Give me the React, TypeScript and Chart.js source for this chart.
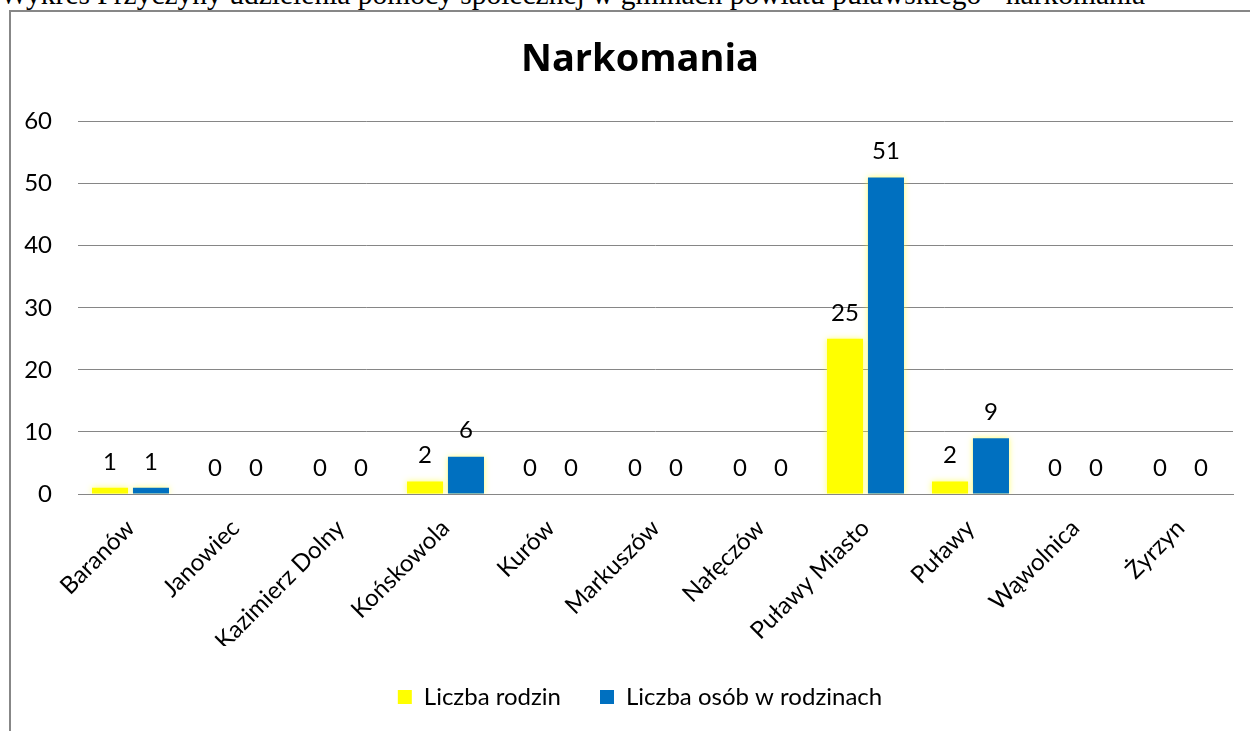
import React, { useEffect, useRef } from "react";
import { Chart, registerables } from "chart.js";

Chart.register(...registerables);

const pageHeading =
  "Wykres Przyczyny udzielenia pomocy społecznej w gminach powiatu puławskiego - narkomania";
const chartTitle = "Narkomania";
const categories = [
  "Baranów",
  "Janowiec",
  "Kazimierz Dolny",
  "Końskowola",
  "Kurów",
  "Markuszów",
  "Nałęczów",
  "Puławy Miasto",
  "Puławy",
  "Wąwolnica",
  "Żyrzyn",
];
const seriesNames = ["Liczba rodzin", "Liczba osób w rodzinach"];
const familiesValues = [1, 0, 0, 2, 0, 0, 0, 25, 2, 0, 0];
const personsValues = [1, 0, 0, 6, 0, 0, 0, 51, 9, 0, 0];
const yTicks = [0, 10, 20, 30, 40, 50, 60];

const FONT = "Lato, 'Open Sans', sans-serif";
const TEXT_SIZE = 24;

const valueLabels = {
  id: "valueLabels",
  afterDatasetsDraw(chart: any) {
    const ctx = chart.ctx;
    ctx.save();
    ctx.font = `${TEXT_SIZE}px ${FONT}`;
    ctx.fillStyle = "#000";
    ctx.textAlign = "center";
    ctx.textBaseline = "middle";
    chart.data.datasets.forEach((ds: any, i: number) => {
      const meta = chart.getDatasetMeta(i);
      meta.data.forEach((el: any, j: number) => {
        ctx.fillText(String(ds.data[j]), el.x, el.y - 26);
      });
    });
    ctx.restore();
  },
};

const yLabels = {
  id: "yLabels",
  afterDraw(chart: any) {
    const ctx = chart.ctx;
    const scale = chart.scales.y;
    ctx.save();
    ctx.font = `${TEXT_SIZE}px ${FONT}`;
    ctx.fillStyle = "#000";
    ctx.textAlign = "right";
    ctx.textBaseline = "middle";
    yTicks.forEach((v) => {
      ctx.fillText(String(v), chart.chartArea.left - 26, scale.getPixelForValue(v));
    });
    ctx.restore();
  },
};

const glow = {
  id: "glow",
  beforeDatasetDraw(chart: any) {
    const ctx = chart.ctx;
    ctx.save();
    ctx.shadowColor = "rgba(255,255,60,0.75)";
    ctx.shadowBlur = 6;
  },
  afterDatasetDraw(chart: any) {
    chart.ctx.restore();
  },
};

export default function App() {
  const ref = useRef<HTMLCanvasElement>(null);

  useEffect(() => {
    document.body.style.margin = "0";
    document.body.style.overflow = "hidden";
    const chart = new Chart(ref.current!, {
      type: "bar",
      data: {
        labels: categories,
        datasets: [
          {
            label: seriesNames[0],
            data: familiesValues,
            backgroundColor: "#FFFF00",
            categoryPercentage: 0.78,
            barPercentage: 0.88,
          },
          {
            label: seriesNames[1],
            data: personsValues,
            backgroundColor: "#0070C0",
            categoryPercentage: 0.78,
            barPercentage: 0.88,
          },
        ],
      },
      options: {
        animation: false,
        responsive: false,
        maintainAspectRatio: false,
        layout: { padding: { left: 47, right: 17, top: 0, bottom: 12 } },
        plugins: {
          title: {
            display: true,
            text: chartTitle,
            color: "#000",
            font: { family: "'Open Sans', sans-serif", size: 38, weight: "bold" },
            padding: { top: 37, bottom: 39 },
          },
          legend: {
            position: "bottom",
            labels: {
              color: "#000",
              font: { family: FONT, size: TEXT_SIZE },
              boxWidth: 14,
              boxHeight: 14,
              padding: 39,
            },
          },
          tooltip: { enabled: false },
        },
        scales: {
          x: {
            grid: { display: false },
            border: { display: true, color: "#868686", width: 1 },
            ticks: {
              color: "#000",
              font: { family: FONT, size: TEXT_SIZE },
              minRotation: 45,
              maxRotation: 45,
              padding: 12,
              autoSkip: false,
            },
            afterFit: (s: any) => {
              s.height = 152;
            },
          },
          y: {
            min: 0,
            max: 60,
            afterBuildTicks: (s: any) => {
              s.ticks = yTicks.map((v) => ({ value: v }));
            },
            grid: { color: "#868686", drawTicks: false, lineWidth: 1 },
            border: { display: false },
            ticks: { display: false },
            afterFit: (s: any) => {
              s.width = 31;
            },
          },
        },
      },
      plugins: [glow, valueLabels, yLabels],
    });
    return () => chart.destroy();
  }, []);

  return (
    <div
      style={{
        position: "fixed",
        left: 0,
        top: 0,
        width: 1250,
        height: 731,
        overflow: "hidden",
        background: "#fff",
      }}
    >
      <div
        style={{
          position: "absolute",
          left: 0,
          top: -21,
          whiteSpace: "nowrap",
          fontFamily: "'Liberation Serif', 'Times New Roman', serif",
          fontSize: 29.5,
          lineHeight: "30px",
          color: "#000",
        }}
      >
        {pageHeading}
      </div>
      <div
        style={{
          position: "absolute",
          left: 9,
          top: 10,
          width: 1400,
          height: 900,
          border: "2px solid #878787",
        }}
      />
      <canvas
        ref={ref}
        width={1250}
        height={731}
        style={{ position: "absolute", left: 0, top: 0 }}
      />
    </div>
  );
}
